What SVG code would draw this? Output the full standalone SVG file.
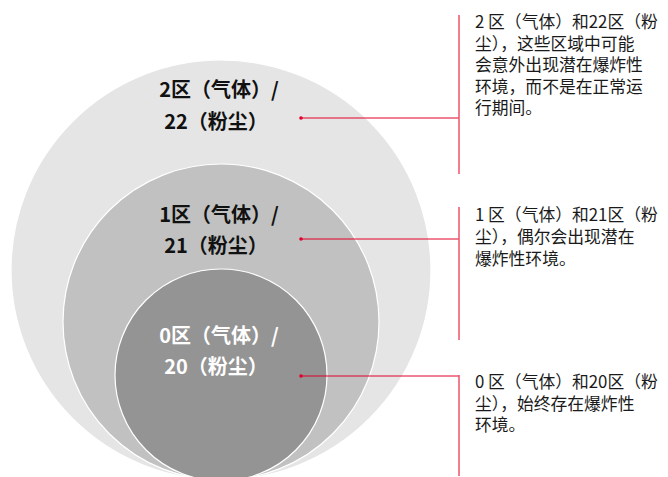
<svg xmlns="http://www.w3.org/2000/svg" width="668" height="477" viewBox="0 0 668 477">
<style>
.zone{stroke:#ffffff;stroke-width:1.2}
.lbl{font-family:"Noto Sans CJK SC","Noto Sans",sans-serif;font-weight:700;font-size:20px;text-anchor:middle}
.dark{fill:#111111}
.light{fill:#ffffff}
.desc{font-family:"Noto Sans CJK SC","Noto Sans",sans-serif;font-size:16.8px;fill:#1a1a1a}
.conn{stroke:#e4002b;stroke-width:1;fill:none}
.vline{stroke:#f0516a;stroke-width:1.5;fill:none}
.dot{fill:#e4002b}
</style>
<rect width="668" height="477" fill="#ffffff"/>
<g id="zone2">
<circle class="zone" cx="221" cy="270" r="210" fill="#e5e5e5"/>
<text class="lbl dark" x="219" y="97">2区（气体）/</text>
<text class="lbl dark" x="216" y="129">22（粉尘）</text>
</g>
<g id="zone1">
<circle class="zone" cx="221" cy="322" r="158" fill="#c0c1c0"/>
<text class="lbl dark" x="219" y="222">1区（气体）/</text>
<text class="lbl dark" x="216" y="253">21（粉尘）</text>
</g>
<g id="zone0">
<circle class="zone" cx="221" cy="375" r="106" fill="#949494"/>
<text class="lbl light" x="219" y="343">0区（气体）/</text>
<text class="lbl light" x="216" y="374">20（粉尘）</text>
</g>
<g id="connectors">
<path class="conn" d="M301 118H459"/>
<path class="conn" d="M301 239H459"/>
<path class="conn" d="M301 376H459"/>
<circle class="dot" cx="301" cy="118" r="1.8"/>
<circle class="dot" cx="301" cy="239" r="1.8"/>
<circle class="dot" cx="301" cy="376" r="1.8"/>
<path class="vline" d="M459 15V174"/>
<path class="vline" d="M459 207V340"/>
<path class="vline" d="M459 375V476"/>
</g>
<g id="desc2">
<text class="desc" x="475" y="28">2 区（气体）和22区（粉</text>
<text class="desc" x="475" y="49.5">尘），这些区域中可能</text>
<text class="desc" x="475" y="71">会意外出现潜在爆炸性</text>
<text class="desc" x="475" y="92.5">环境，而不是在正常运</text>
<text class="desc" x="475" y="114">行期间。</text>
</g>
<g id="desc1">
<text class="desc" x="475" y="221">1 区（气体）和21区（粉</text>
<text class="desc" x="475" y="243">尘），偶尔会出现潜在</text>
<text class="desc" x="475" y="265">爆炸性环境。</text>
</g>
<g id="desc0">
<text class="desc" x="475" y="388">0 区（气体）和20区（粉</text>
<text class="desc" x="475" y="409.5">尘），始终存在爆炸性</text>
<text class="desc" x="475" y="431">环境。</text>
</g>
</svg>
